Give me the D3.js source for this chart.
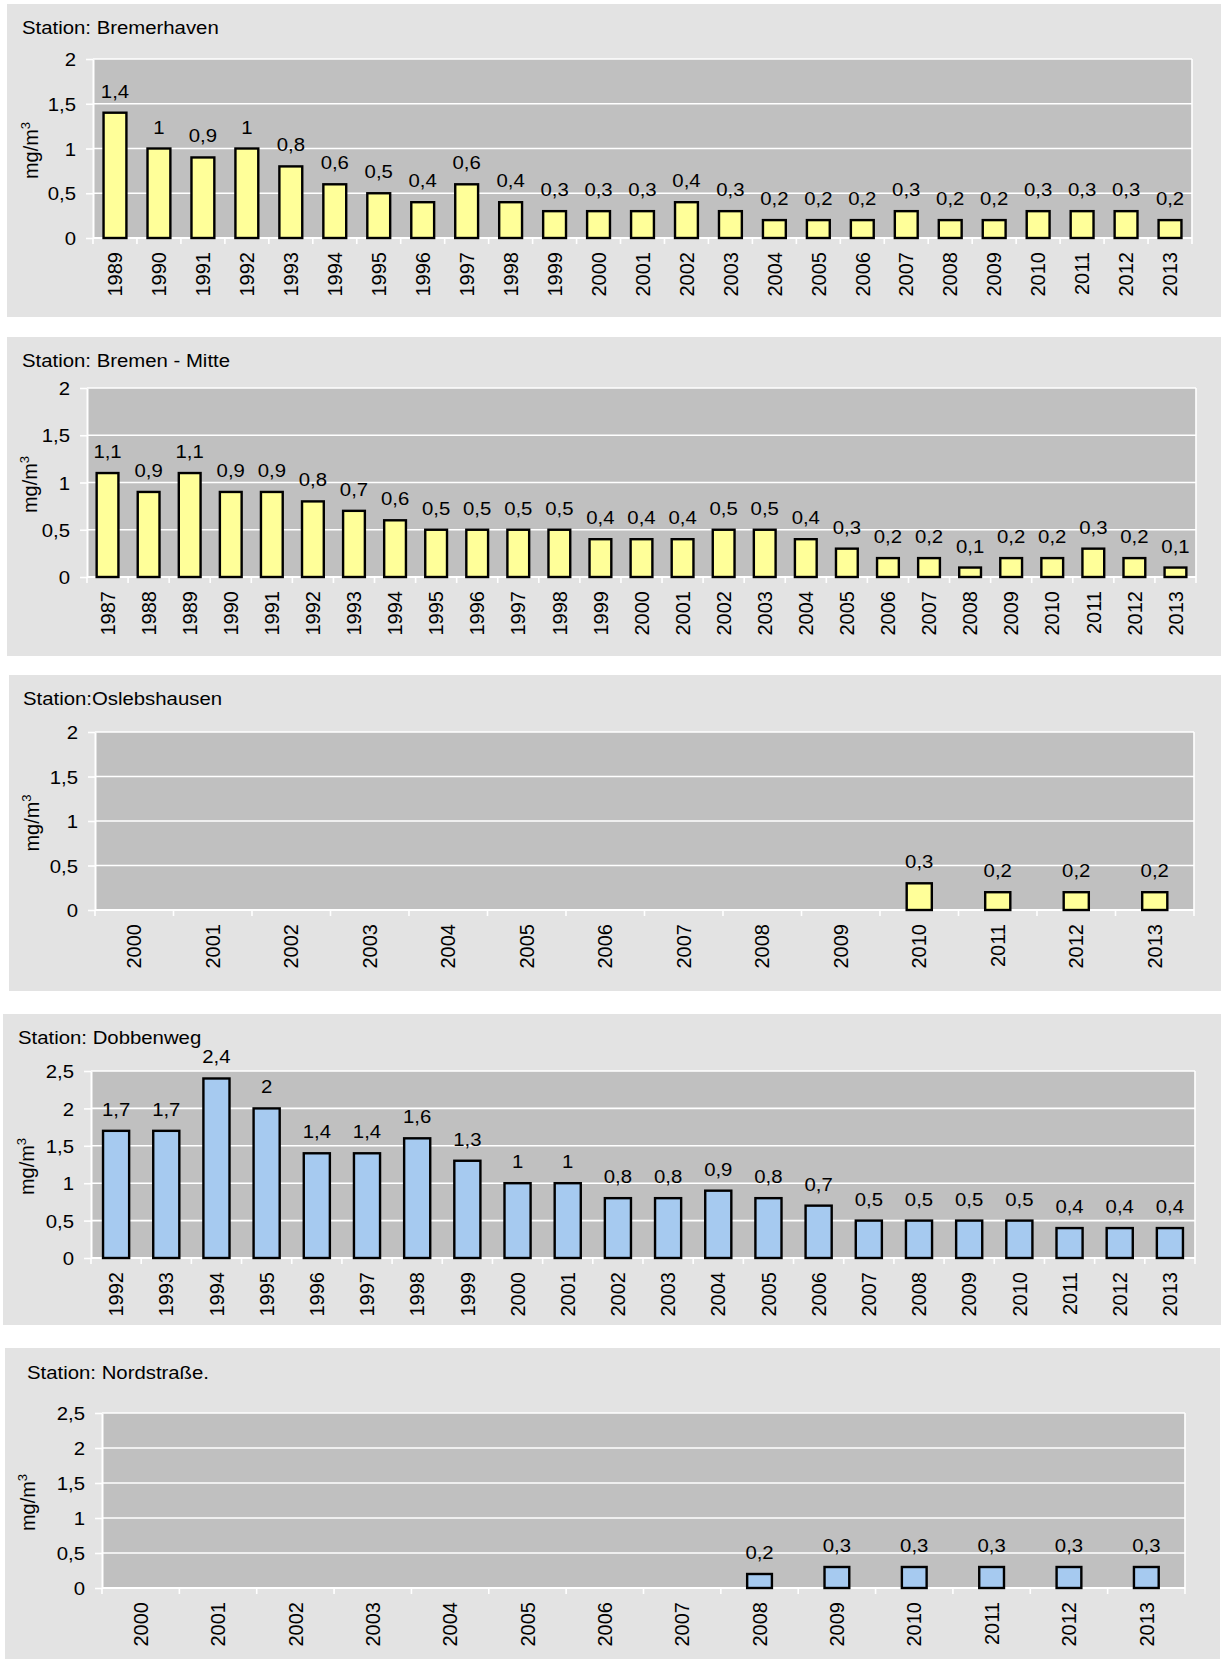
<!DOCTYPE html>
<html>
<head>
<meta charset="utf-8">
<script src="https://cdn.jsdelivr.net/npm/d3@7"></script>
<style>
  html, body { margin: 0; padding: 0; background: #ffffff; }
  svg { display: block; font-family: "Liberation Sans", Arial, sans-serif; }
</style>
</head>
<body>
<svg id="chart" width="1223" height="1659"></svg>
<script>
// ---------------- DATA ----------------
const bremerhavenYears = ["1989","1990","1991","1992","1993","1994","1995","1996","1997","1998","1999","2000","2001","2002","2003","2004","2005","2006","2007","2008","2009","2010","2011","2012","2013"];
const bremerhavenValues = [1.4,1,0.9,1,0.8,0.6,0.5,0.4,0.6,0.4,0.3,0.3,0.3,0.4,0.3,0.2,0.2,0.2,0.3,0.2,0.2,0.3,0.3,0.3,0.2];

const bremenMitteYears = ["1987","1988","1989","1990","1991","1992","1993","1994","1995","1996","1997","1998","1999","2000","2001","2002","2003","2004","2005","2006","2007","2008","2009","2010","2011","2012","2013"];
const bremenMitteValues = [1.1,0.9,1.1,0.9,0.9,0.8,0.7,0.6,0.5,0.5,0.5,0.5,0.4,0.4,0.4,0.5,0.5,0.4,0.3,0.2,0.2,0.1,0.2,0.2,0.3,0.2,0.1];

const oslebshausenYears = ["2000","2001","2002","2003","2004","2005","2006","2007","2008","2009","2010","2011","2012","2013"];
const oslebshausenValues = [null,null,null,null,null,null,null,null,null,null,0.3,0.2,0.2,0.2];

const dobbenwegYears = ["1992","1993","1994","1995","1996","1997","1998","1999","2000","2001","2002","2003","2004","2005","2006","2007","2008","2009","2010","2011","2012","2013"];
const dobbenwegValues = [1.7,1.7,2.4,2,1.4,1.4,1.6,1.3,1,1,0.8,0.8,0.9,0.8,0.7,0.5,0.5,0.5,0.5,0.4,0.4,0.4];

const nordstrasseYears = ["2000","2001","2002","2003","2004","2005","2006","2007","2008","2009","2010","2011","2012","2013"];
const nordstrasseValues = [null,null,null,null,null,null,null,null,0.2,0.3,0.3,0.3,0.3,0.3];

const yTicksTo2 = [0, 0.5, 1, 1.5, 2];
const yTicksTo25 = [0, 0.5, 1, 1.5, 2, 2.5];

const titles = ["Station: Bremerhaven", "Station: Bremen - Mitte", "Station:Oslebshausen", "Station: Dobbenweg", "Station: Nordstraße."];
const unitLabel = "mg/m";
const unitSup = "3";

// ---------------- LAYOUT / STYLE ----------------
const YELLOW = "#FFFF99", BLUE = "#A6CAF0";
const PANEL_BG = "#E3E3E3", PLOT_BG = "#C0C0C0";
const SX = 1.1; // horizontal stretch of horizontal texts

const panels = [
  { years: bremerhavenYears, values: bremerhavenValues, ticks: yTicksTo2, title: titles[0], color: YELLOW,
    box: [7, 4, 1214, 313], x0: 93, x1: 1192, yTop: 59, y0: 238, title_xy: [22, 34], ylabX: 38, frac: 0.52 },
  { years: bremenMitteYears, values: bremenMitteValues, ticks: yTicksTo2, title: titles[1], color: YELLOW,
    box: [7, 337, 1214, 319], x0: 87, x1: 1196, yTop: 388, y0: 577, title_xy: [22, 367], ylabX: 37, frac: 0.53 },
  { years: oslebshausenYears, values: oslebshausenValues, ticks: yTicksTo2, title: titles[2], color: YELLOW,
    box: [9, 675, 1212, 316], x0: 95, x1: 1194, yTop: 732, y0: 910, title_xy: [23, 705], ylabX: 39, frac: 0.32 },
  { years: dobbenwegYears, values: dobbenwegValues, ticks: yTicksTo25, title: titles[3], color: BLUE,
    box: [3, 1014, 1218, 311], x0: 91, x1: 1195, yTop: 1071, y0: 1258, title_xy: [18, 1044], ylabX: 34, frac: 0.52 },
  { years: nordstrasseYears, values: nordstrasseValues, ticks: yTicksTo25, title: titles[4], color: BLUE,
    box: [5, 1348, 1215, 311], x0: 102, x1: 1185, yTop: 1413, y0: 1588, title_xy: [27, 1379], ylabX: 35, frac: 0.32 }
];

const locale = d3.formatLocale({ decimal: ",", thousands: ".", grouping: [3], currency: ["", " €"] });
const fmt = locale.format(".1~f");

const svg = d3.select("#chart");

panels.forEach(p => {
  const g = svg.append("g");
  const [bx, by, bw, bh] = p.box;
  g.append("rect").attr("x", bx).attr("y", by).attr("width", bw).attr("height", bh).attr("fill", PANEL_BG);

  const x = d3.scaleBand().domain(p.years).range([p.x0, p.x1]).padding(0);
  const ymax = p.ticks[p.ticks.length - 1];
  const y = d3.scaleLinear().domain([0, ymax]).range([p.y0, p.yTop]);

  // plot area
  g.append("rect").attr("x", p.x0).attr("y", p.yTop).attr("width", p.x1 - p.x0).attr("height", p.y0 - p.yTop)
    .attr("fill", PLOT_BG);

  // gridlines
  g.append("g").selectAll("line").data(p.ticks).join("line")
    .attr("x1", p.x0).attr("x2", p.x1)
    .attr("y1", d => y(d)).attr("y2", d => y(d))
    .attr("stroke", "#ffffff").attr("stroke-width", 1.6);

  // right border
  g.append("line").attr("x1", p.x1).attr("x2", p.x1).attr("y1", p.yTop).attr("y2", p.y0)
    .attr("stroke", "#ffffff").attr("stroke-width", 1.6);

  // y axis
  const yAxis = g.append("g").attr("transform", `translate(${p.x0},0)`)
    .call(d3.axisLeft(y).tickValues(p.ticks).tickSize(7).tickSizeOuter(0).tickFormat(fmt));
  yAxis.select(".domain").attr("stroke", "#ffffff").attr("stroke-width", 2);
  yAxis.selectAll(".tick line").attr("stroke", "#ffffff").attr("stroke-width", 1.6);
  yAxis.selectAll(".tick text")
    .attr("x", 0).attr("dy", "0.36em")
    .attr("transform", `translate(-17,0) scale(${SX},1)`)
    .attr("fill", "#000").attr("font-size", 18.5).attr("font-family", "Liberation Sans, Arial, sans-serif");

  // x axis line
  g.append("line").attr("x1", p.x0).attr("x2", p.x1).attr("y1", p.y0).attr("y2", p.y0)
    .attr("stroke", "#ffffff").attr("stroke-width", 2);
  // x boundary ticks
  const bounds = p.years.map(d => x(d)).concat([p.x1]);
  g.append("g").selectAll("line").data(bounds).join("line")
    .attr("x1", d => d).attr("x2", d => d).attr("y1", p.y0).attr("y2", p.y0 + 6)
    .attr("stroke", "#ffffff").attr("stroke-width", 1.6);

  // x labels (rotated)
  g.append("g").selectAll("text").data(p.years).join("text")
    .attr("transform", d => `translate(${x(d) + x.bandwidth() / 2},${p.y0 + 14}) rotate(-90)`)
    .attr("text-anchor", "end").attr("dy", "0.36em")
    .attr("font-size", 20).attr("fill", "#000")
    .text(d => d);

  // bars
  const data = p.years.map((d, i) => ({ year: d, v: p.values[i] })).filter(d => d.v !== null);
  const w = x.bandwidth() * p.frac;
  g.append("g").selectAll("rect").data(data).join("rect")
    .attr("x", d => x(d.year) + (x.bandwidth() - w) / 2)
    .attr("y", d => y(d.v))
    .attr("width", w)
    .attr("height", d => y(0) - y(d.v))
    .attr("fill", p.color).attr("stroke", "#000").attr("stroke-width", 2.4);

  // value labels
  g.append("g").selectAll("text").data(data).join("text")
    .attr("transform", d => `translate(${x(d.year) + x.bandwidth() / 2},${y(d.v) - 15}) scale(${SX},1)`)
    .attr("text-anchor", "middle").attr("font-size", 18.5).attr("fill", "#000")
    .text(d => fmt(d.v));

  // title
  g.append("text")
    .attr("transform", `translate(${p.title_xy[0]},${p.title_xy[1]}) scale(${SX},1)`)
    .attr("font-size", 18.5).attr("fill", "#000")
    .text(p.title);

  // y axis title
  const yt = g.append("text")
    .attr("transform", `translate(${p.ylabX},${(p.yTop + p.y0) / 2 + 2}) rotate(-90)`)
    .attr("text-anchor", "middle").attr("font-size", 20).attr("fill", "#000");
  yt.append("tspan").text(unitLabel);
  yt.append("tspan").attr("font-size", 13).attr("dy", "-0.6em").text(unitSup);
});
</script>
</body>
</html>
